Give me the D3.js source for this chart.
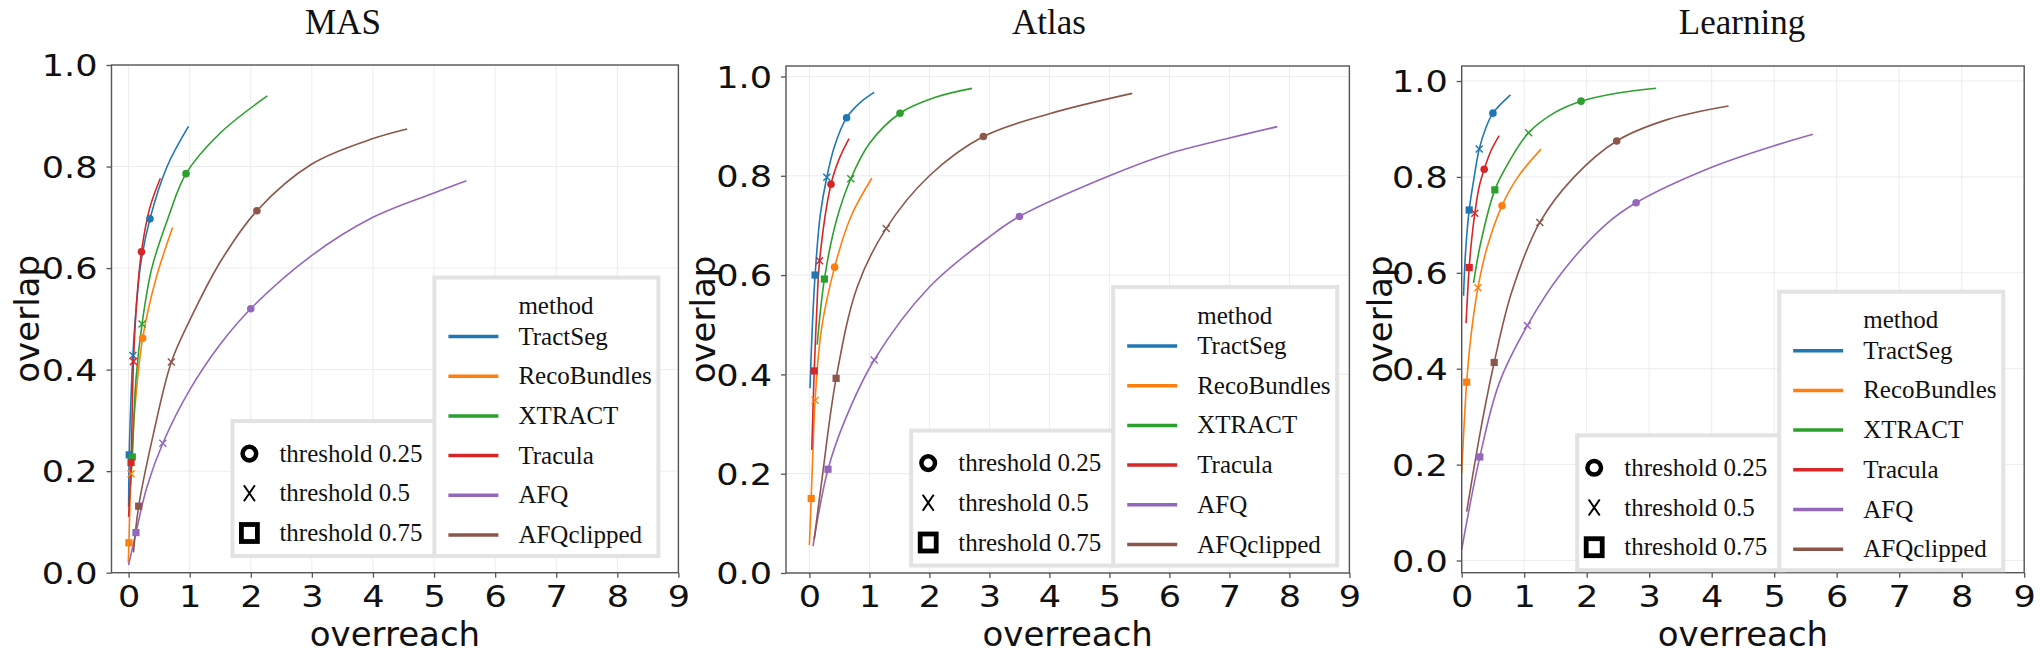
<!DOCTYPE html>
<html><head><meta charset="utf-8">
<script src="https://cdn.jsdelivr.net/npm/d3@7"></script>
<style>body{margin:0;background:#fff}</style>
</head><body><svg id="c" width="2040" height="653"></svg>
<script>
const panelNames = ["MAS", "Atlas", "Learning"];
const methods = ["TractSeg", "RecoBundles", "XTRACT", "Tracula", "AFQ", "AFQclipped"];
const methodColors = ["#1f77b4", "#ff7f0e", "#2ca02c", "#d62728", "#9467bd", "#8c564b"];
const thresholdLabels = ["threshold 0.25", "threshold 0.5", "threshold 0.75"];
const markerShapes = ["circle", "x", "square"];
const xTicks = [0, 1, 2, 3, 4, 5, 6, 7, 8, 9];
const yTicks = [0, 0.2, 0.4, 0.6, 0.8, 1.0];

// curves: [overreach, overlap] along each fitted curve
const masCurves = {
  TractSeg:    [[0.0,0.13],[0.01,0.232],[0.035,0.33],[0.07,0.428],[0.13,0.53],[0.2,0.61],[0.35,0.697],[0.63,0.80],[0.98,0.879]],
  RecoBundles: [[-0.005,0.02],[0.005,0.059],[0.04,0.195],[0.1,0.32],[0.23,0.462],[0.45,0.58],[0.72,0.68]],
  XTRACT:      [[0.03,0.17],[0.06,0.228],[0.12,0.38],[0.22,0.49],[0.38,0.60],[0.65,0.70],[0.94,0.786],[1.5,0.866],[2.27,0.939]],
  Tracula:     [[0.0,0.11],[0.04,0.217],[0.08,0.416],[0.13,0.53],[0.21,0.632],[0.35,0.72],[0.52,0.777]],
  AFQ:         [[0.0,0.015],[0.12,0.079],[0.3,0.169],[0.56,0.255],[1.0,0.36],[1.5,0.45],[2.0,0.52],[3.0,0.625],[4.0,0.70],[5.0,0.748],[5.53,0.772]],
  AFQclipped:  [[0.08,0.04],[0.165,0.131],[0.4,0.27],[0.70,0.415],[1.0,0.497],[1.5,0.612],[2.1,0.713],[3.0,0.805],[4.0,0.855],[4.56,0.874]]
};
// markers: [threshold 0.25 (circle), threshold 0.5 (x), threshold 0.75 (square)]
const masMarkers = {
  TractSeg:    [[0.35,0.697],[0.07,0.428],[0.01,0.232]],
  RecoBundles: [[0.23,0.462],[0.04,0.195],[0.005,0.059]],
  XTRACT:      [[0.94,0.786],[0.22,0.49],[0.06,0.228]],
  Tracula:     [[0.21,0.632],[0.08,0.416],[0.04,0.217]],
  AFQ:         [[2.0,0.52],[0.56,0.255],[0.12,0.079]],
  AFQclipped:  [[2.1,0.713],[0.70,0.415],[0.165,0.131]]
};

const atlasCurves = {
  TractSeg:    [[0.01,0.372],[0.05,0.50],[0.095,0.60],[0.18,0.72],[0.29,0.797],[0.42,0.86],[0.62,0.917],[0.85,0.948],[1.08,0.968]],
  RecoBundles: [[0.0,0.056],[0.03,0.15],[0.06,0.25],[0.095,0.348],[0.2,0.49],[0.42,0.616],[0.7,0.72],[1.04,0.795]],
  XTRACT:      [[0.13,0.46],[0.25,0.592],[0.45,0.71],[0.69,0.794],[1.0,0.865],[1.51,0.926],[2.1,0.958],[2.71,0.976]],
  Tracula:     [[0.04,0.248],[0.08,0.407],[0.12,0.52],[0.17,0.629],[0.36,0.783],[0.5,0.835],[0.66,0.875]],
  AFQ:         [[0.06,0.054],[0.31,0.209],[0.6,0.31],[1.08,0.429],[2.0,0.576],[3.0,0.677],[3.5,0.718],[5.0,0.80],[6.0,0.845],[7.0,0.876],[7.8,0.899]],
  AFQclipped:  [[0.08,0.068],[0.2,0.18],[0.445,0.392],[0.8,0.577],[1.28,0.694],[2.0,0.80],[2.9,0.879],[4.0,0.925],[5.38,0.966]]
};
const atlasMarkers = {
  TractSeg:    [[0.62,0.917],[0.29,0.797],[0.095,0.60]],
  RecoBundles: [[0.42,0.616],[0.095,0.348],[0.03,0.15]],
  XTRACT:      [[1.51,0.926],[0.69,0.794],[0.25,0.592]],
  Tracula:     [[0.36,0.783],[0.17,0.629],[0.08,0.407]],
  AFQ:         [[3.5,0.718],[1.08,0.429],[0.31,0.209]],
  AFQclipped:  [[2.9,0.879],[1.28,0.694],[0.445,0.392]]
};

const learningCurves = {
  TractSeg:    [[0.03,0.552],[0.06,0.64],[0.12,0.731],[0.2,0.80],[0.28,0.858],[0.38,0.90],[0.5,0.933],[0.78,0.971]],
  RecoBundles: [[0.0,0.182],[0.08,0.372],[0.15,0.47],[0.26,0.569],[0.4,0.65],[0.645,0.74],[0.9,0.80],[1.27,0.858]],
  XTRACT:      [[0.19,0.579],[0.3,0.66],[0.53,0.773],[0.75,0.83],[1.07,0.892],[1.5,0.935],[1.91,0.958],[2.5,0.975],[3.11,0.985]],
  Tracula:     [[0.07,0.495],[0.12,0.611],[0.16,0.67],[0.21,0.724],[0.28,0.78],[0.36,0.816],[0.47,0.855],[0.6,0.886]],
  AFQ:         [[0.0,0.023],[0.29,0.216],[0.6,0.37],[1.05,0.49],[1.6,0.60],[2.3,0.70],[2.79,0.746],[4.0,0.82],[5.0,0.865],[5.62,0.889]],
  AFQclipped:  [[0.08,0.102],[0.3,0.27],[0.52,0.413],[0.8,0.56],[1.25,0.705],[1.8,0.80],[2.48,0.875],[3.3,0.92],[4.27,0.948]]
};
const learningMarkers = {
  TractSeg:    [[0.5,0.933],[0.28,0.858],[0.12,0.731]],
  RecoBundles: [[0.645,0.74],[0.26,0.569],[0.08,0.372]],
  XTRACT:      [[1.91,0.958],[1.07,0.892],[0.53,0.773]],
  Tracula:     [[0.36,0.816],[0.21,0.724],[0.12,0.611]],
  AFQ:         [[2.79,0.746],[1.05,0.49],[0.29,0.216]],
  AFQclipped:  [[2.48,0.875],[1.25,0.705],[0.52,0.413]]
};

const panelCurves = [masCurves, atlasCurves, learningCurves];
const panelMarkers = [masMarkers, atlasMarkers, learningMarkers];

// layout (pixels)
const layout = [
  {left:111.5, right:678.4, top:65, bottom:572.7, xdom:[-0.28,9], ydom:[0,1.0], titleX:343, ylabX:27, legX:434.4, legY:277.5},
  {left:786, right:1349.4, top:66, bottom:573, xdom:[-0.39,9], ydom:[0,1.0211], titleX:1049, ylabX:703, legX:1113.2, legY:287},
  {left:1461.7, right:2024.2, top:66, bottom:572.7, xdom:[0,9], ydom:[-0.0254,1.0313], titleX:1742, ylabX:1380, legX:1779.2, legY:291.7}
];

const svg = d3.select("#c");
const serif = "'Liberation Serif','Times New Roman',serif";
const sans = "'DejaVu Sans',sans-serif";
const tickFont = 30, tickStretch = 1.17;

panelNames.forEach((name, pi) => {
  const L = layout[pi];
  const x = d3.scaleLinear().domain(L.xdom).range([L.left, L.right]);
  const y = d3.scaleLinear().domain(L.ydom).range([L.bottom, L.top]);
  const g = svg.append("g");

  // grid
  g.append("g").selectAll("line").data(xTicks).join("line")
    .attr("x1", d => x(d)).attr("x2", d => x(d)).attr("y1", L.top).attr("y2", L.bottom)
    .attr("stroke", "#ececec").attr("stroke-width", 1);
  g.append("g").selectAll("line").data(yTicks).join("line")
    .attr("y1", d => y(d)).attr("y2", d => y(d)).attr("x1", L.left).attr("x2", L.right)
    .attr("stroke", "#ececec").attr("stroke-width", 1);

  // axes
  const xa = g.append("g").attr("transform", `translate(0,${L.bottom})`)
    .call(d3.axisBottom(x).tickValues(xTicks).tickFormat(d3.format("d")).tickSize(5).tickPadding(8));
  const ya = g.append("g").attr("transform", `translate(${L.left},0)`)
    .call(d3.axisLeft(y).tickValues(yTicks).tickFormat(d3.format(".1f")).tickSize(5).tickPadding(9));
  [xa, ya].forEach(a => {
    a.select(".domain").remove();
    a.selectAll(".tick line").attr("stroke", "#555").attr("stroke-width", 1.3);
    a.selectAll(".tick text").attr("font-family", sans).attr("font-size", tickFont).attr("fill", "#111");
  });
  xa.selectAll(".tick text").attr("transform", `scale(${tickStretch},1)`);
  ya.selectAll(".tick text").attr("dy", "0.36em").attr("x", 0)
    .attr("transform", `translate(-14,0) scale(${tickStretch},1)`);

  // curves
  const line = d3.line().x(d => x(d[0])).y(d => y(d[1])).curve(d3.curveCatmullRom.alpha(0.5));
  const clipId = "clip" + pi;
  svg.append("clipPath").attr("id", clipId).append("rect")
    .attr("x", L.left).attr("y", L.top).attr("width", L.right - L.left).attr("height", L.bottom - L.top);
  const plot = g.append("g").attr("clip-path", `url(#${clipId})`);
  methods.forEach((m, mi) => {
    plot.append("path").attr("d", line(panelCurves[pi][m]))
      .attr("fill", "none").attr("stroke", methodColors[mi]).attr("stroke-width", 1.6);
  });
  methods.forEach((m, mi) => {
    const col = methodColors[mi];
    panelMarkers[pi][m].forEach((p, ti) => {
      const cx = x(p[0]), cy = y(p[1]);
      const shape = markerShapes[ti];
      if (shape === "circle") {
        plot.append("circle").attr("cx", cx).attr("cy", cy).attr("r", 3.8).attr("fill", col);
      } else if (shape === "square") {
        plot.append("rect").attr("x", cx - 3.6).attr("y", cy - 3.6).attr("width", 7.2).attr("height", 7.2).attr("fill", col);
      } else {
        plot.append("path").attr("d", `M${cx-3.5},${cy-3.5}L${cx+3.5},${cy+3.5}M${cx-3.5},${cy+3.5}L${cx+3.5},${cy-3.5}`)
          .attr("stroke", col).attr("stroke-width", 1.4);
      }
    });
  });

  // frame
  g.append("rect").attr("x", L.left).attr("y", L.top).attr("width", L.right - L.left).attr("height", L.bottom - L.top)
    .attr("fill", "none").attr("stroke", "#555").attr("stroke-width", 1.4);

  // title & axis labels
  svg.append("text").attr("x", L.titleX).attr("y", 34).attr("text-anchor", "middle")
    .attr("font-family", serif).attr("font-size", 35).attr("fill", "#111").text(name);
  svg.append("text").attr("x", (L.left + L.right) / 2).attr("y", 646).attr("text-anchor", "middle")
    .attr("font-family", sans).attr("font-size", 34).attr("fill", "#111").text("overreach");
  svg.append("text").attr("transform", `translate(${L.ylabX},${(L.top + L.bottom) / 2}) rotate(-90)`)
    .attr("text-anchor", "middle").attr("dominant-baseline", "central")
    .attr("font-family", sans).attr("font-size", 34).attr("fill", "#111").text("overlap");

  // legends
  const rowY = i => L.legY + 59 + 39.7 * i;
  const mBottom = rowY(5) + 21;
  const tx = L.legX - 202, tTop = rowY(3) - 2 - 32.5;
  const tl = svg.append("g");
  tl.append("rect").attr("x", tx).attr("y", tTop).attr("width", 206).attr("height", mBottom - tTop)
    .attr("fill", "#fff").attr("stroke", "#e3e3e3").attr("stroke-width", 4);
  thresholdLabels.forEach((t, ti) => {
    const cy = rowY(3 + ti) - 2;
    const mx = tx + 17;
    if (ti === 0) {
      tl.append("circle").attr("cx", mx).attr("cy", cy).attr("r", 6.8).attr("fill", "none").attr("stroke", "#000").attr("stroke-width", 4.5);
    } else if (ti === 1) {
      tl.append("path").attr("d", `M${mx-5.5},${cy-8}L${mx+5.5},${cy+8}M${mx-5.5},${cy+8}L${mx+5.5},${cy-8}`).attr("stroke", "#000").attr("stroke-width", 2);
    } else {
      tl.append("rect").attr("x", mx - 8).attr("y", cy - 8.5).attr("width", 16).attr("height", 17).attr("fill", "none").attr("stroke", "#000").attr("stroke-width", 4.8);
    }
    tl.append("text").attr("x", tx + 47).attr("y", cy + 8).attr("font-family", serif).attr("font-size", 25).attr("fill", "#111").text(t);
  });

  const ml = svg.append("g");
  ml.append("rect").attr("x", L.legX).attr("y", L.legY).attr("width", 224).attr("height", mBottom - L.legY)
    .attr("fill", "#fff").attr("stroke", "#e3e3e3").attr("stroke-width", 4);
  ml.append("text").attr("x", L.legX + 84).attr("y", L.legY + 28.5 + 8).attr("font-family", serif).attr("font-size", 25).attr("fill", "#111").text("method");
  methods.forEach((m, mi) => {
    const cy = rowY(mi);
    ml.append("line").attr("x1", L.legX + 14).attr("x2", L.legX + 64).attr("y1", cy).attr("y2", cy)
      .attr("stroke", methodColors[mi]).attr("stroke-width", 3.5);
    ml.append("text").attr("x", L.legX + 84).attr("y", cy + 8).attr("font-family", serif).attr("font-size", 25).attr("fill", "#111").text(m);
  });
});
</script></body></html>
